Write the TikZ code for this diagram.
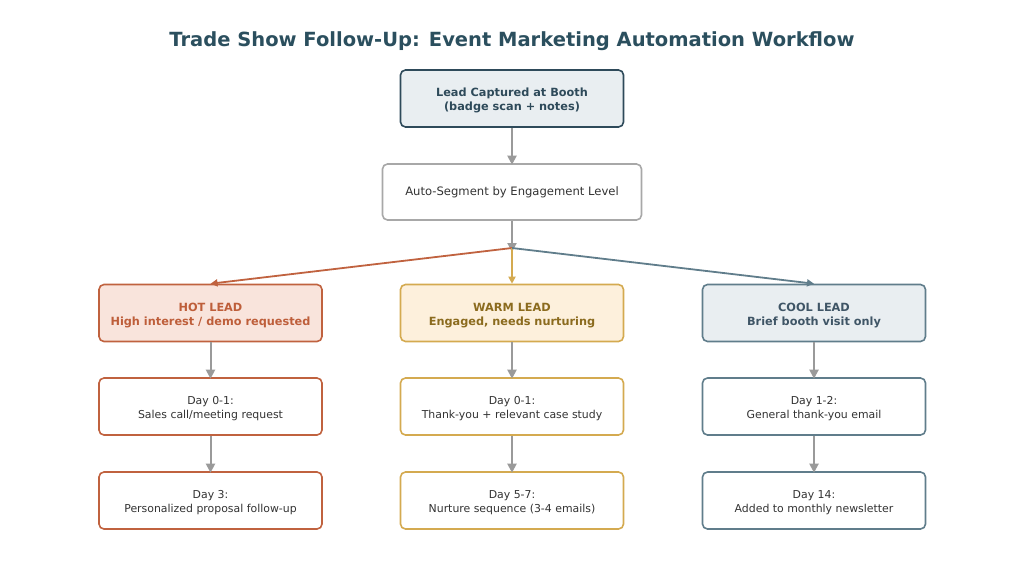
\documentclass[tikz,border=0pt]{standalone}
\usepackage{fontspec}
\setmainfont{DejaVu Sans}
\usetikzlibrary{arrows.meta}
\definecolor{titlec}{RGB}{43,79,94}
\definecolor{topbd}{RGB}{46,74,90}
\definecolor{topfill}{RGB}{233,238,241}
\definecolor{segbd}{RGB}{168,168,168}
\definecolor{arrg}{RGB}{154,154,154}
\definecolor{hotbd}{RGB}{192,98,63}
\definecolor{hotfill}{RGB}{249,228,220}
\definecolor{hottx}{RGB}{190,94,58}
\definecolor{warmbd}{RGB}{212,170,80}
\definecolor{warmfill}{RGB}{253,240,220}
\definecolor{warmtx}{RGB}{139,107,30}
\definecolor{coolbd}{RGB}{96,125,139}
\definecolor{coolfill}{RGB}{233,238,241}
\definecolor{cooltx}{RGB}{63,85,102}
\definecolor{daytx}{RGB}{51,51,51}
\newcommand{\dnstrut}{\rule{0pt}{12.5pt}}
\tikzset{
  box/.style={draw, rounded corners=5pt, line width=1.6pt, minimum width=223pt, minimum height=57pt, align=center, inner sep=0pt},
  headtx/.style={font=\fontsize{11.3}{14}\selectfont\bfseries},
  daybox/.style={box, fill=white, text=daytx, font=\fontsize{10.9}{13.5}\selectfont},
  garrow/.style={draw=arrg, line width=2pt, -{Triangle[length=9pt,width=9pt]}},
  carrow/.style={line width=1.8pt, -{Triangle[length=7pt,width=7pt]}},
}
\begin{document}
\begin{tikzpicture}[x=1pt,y=-1pt]
\useasboundingbox (0,0) rectangle (1024,573);
\node[font=\fontsize{19.5}{22}\selectfont\bfseries, text=titlec] (title) at (512,41) {Trade Show Follow-Up: Event Marketing Automation Workflow};

\node[box, draw=topbd, fill=topfill, text=topbd, headtx, minimum height=57pt] (top) at (512,98.5) {\dnstrut Lead Captured at Booth\\(badge scan + notes)};
\node[box, draw=segbd, fill=white, text=daytx, font=\fontsize{11.6}{14}\selectfont, minimum width=259pt, minimum height=56pt] (seg) at (512,192) {Auto-Segment by Engagement Level};
\coordinate (br) at (512,250);

\node[box, draw=hotbd, fill=hotfill, text=hottx, headtx] (hot) at (210.5,313) {\dnstrut HOT LEAD\\High interest / demo requested};
\node[box, draw=warmbd, fill=warmfill, text=warmtx, headtx] (warm) at (512,313) {\dnstrut WARM LEAD\\Engaged, needs nurturing};
\node[box, draw=coolbd, fill=coolfill, text=cooltx, headtx] (cool) at (814,313) {\dnstrut COOL LEAD\\Brief booth visit only};

\node[daybox, draw=hotbd] (h1) at (210.5,406.5) {\dnstrut Day 0-1:\\Sales call/meeting request};
\node[daybox, draw=hotbd] (h2) at (210.5,500.5) {\dnstrut Day 3:\\Personalized proposal follow-up};
\node[daybox, draw=warmbd] (w1) at (512,406.5) {\dnstrut Day 0-1:\\Thank-you + relevant case study};
\node[daybox, draw=warmbd] (w2) at (512,500.5) {\dnstrut Day 5-7:\\Nurture sequence (3-4 emails)};
\node[daybox, draw=coolbd] (c1) at (814,406.5) {\dnstrut Day 1-2:\\General thank-you email};
\node[daybox, draw=coolbd] (c2) at (814,500.5) {\dnstrut Day 14:\\Added to monthly newsletter};

\draw[garrow] (top.south) -- ([yshift=-1.5pt]seg.north);
\draw[garrow] (seg.south) -- ([yshift=-2pt]br);
\draw[carrow, draw=hotbd, fill=hotbd] ([yshift=2pt]br) -- (hot.north);
\draw[carrow, draw=warmbd, fill=warmbd] ([yshift=2pt]br) -- (warm.north);
\draw[carrow, draw=coolbd, fill=coolbd] ([yshift=2pt]br) -- (cool.north);

\draw[garrow] (hot.south) -- ([yshift=-1.5pt]h1.north);
\draw[garrow] (h1.south) -- ([yshift=-1.5pt]h2.north);
\draw[garrow] (warm.south) -- ([yshift=-1.5pt]w1.north);
\draw[garrow] (w1.south) -- ([yshift=-1.5pt]w2.north);
\draw[garrow] (cool.south) -- ([yshift=-1.5pt]c1.north);
\draw[garrow] (c1.south) -- ([yshift=-1.5pt]c2.north);
\end{tikzpicture}
\end{document}
